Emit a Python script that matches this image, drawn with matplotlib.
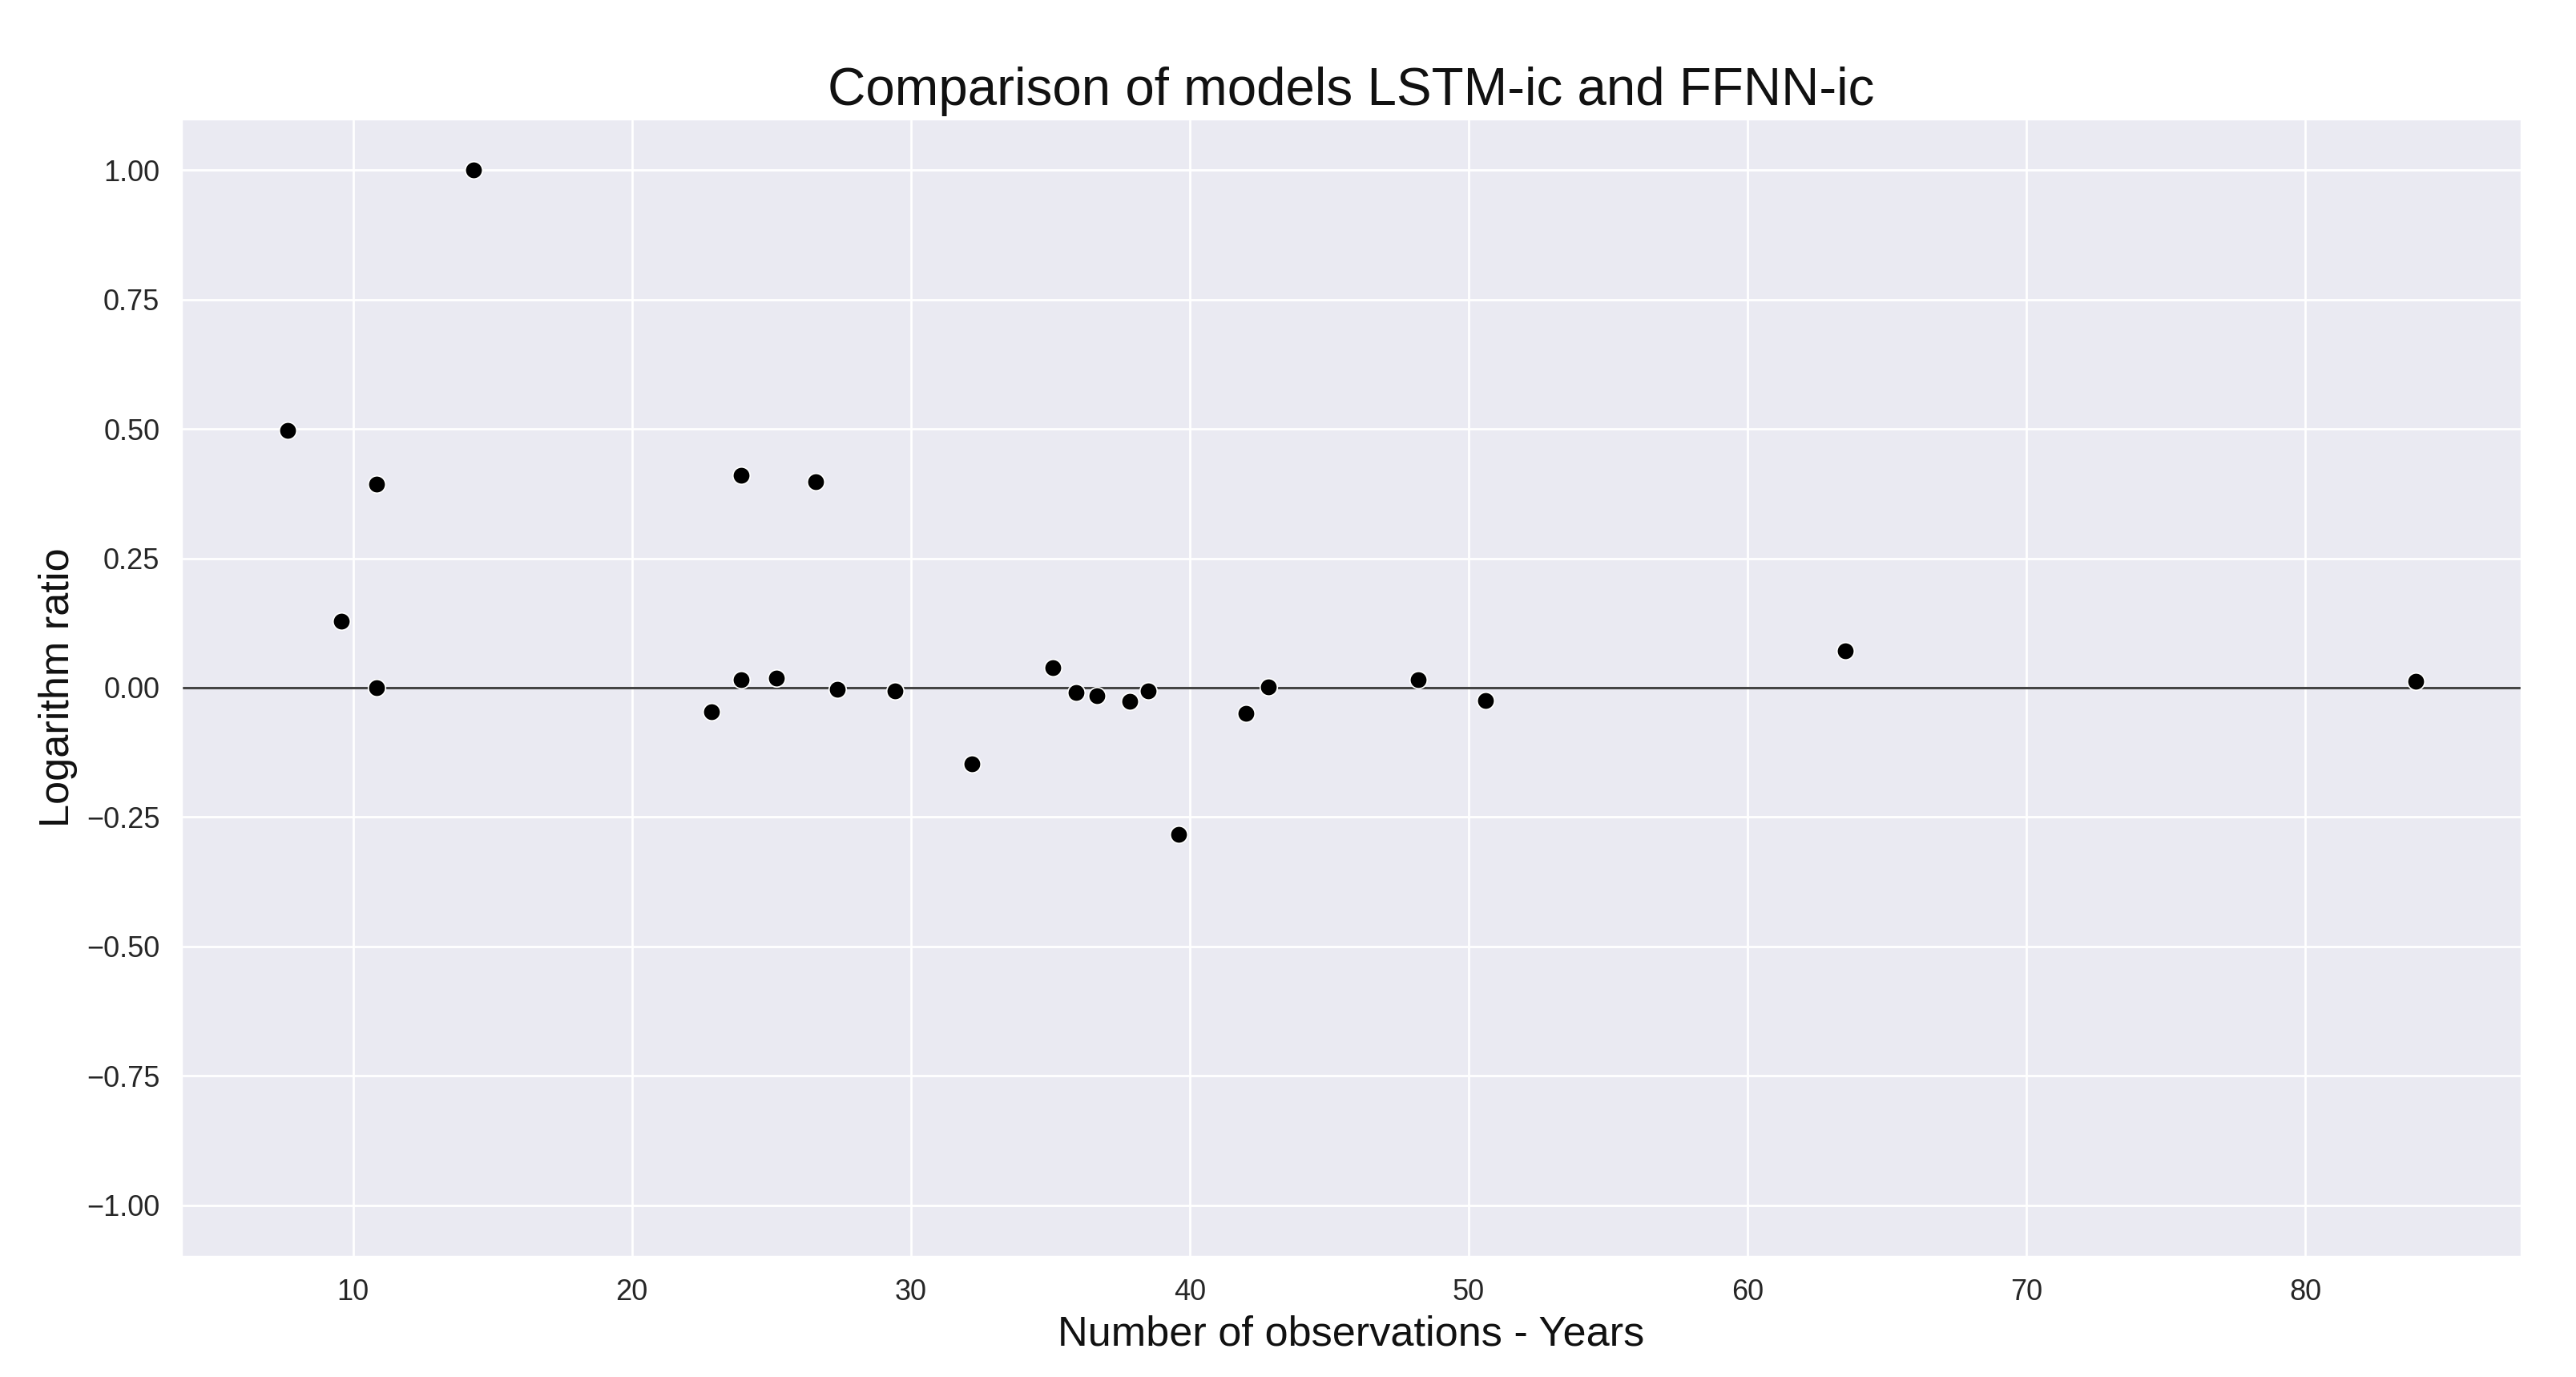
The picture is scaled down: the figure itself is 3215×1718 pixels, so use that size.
import matplotlib
matplotlib.use("Agg")
import matplotlib.pyplot as plt
import seaborn as sns
import numpy as np

years = [7.64, 9.59, 10.85, 10.85, 14.33, 22.85, 23.91, 23.91, 25.19, 26.59,
         27.35, 29.43, 32.19, 35.09, 35.93, 36.68, 37.85, 38.52, 39.61, 42.02,
         42.83, 48.19, 50.60, 63.51, 83.95]
log_ratio = [0.497, 0.128, 0.394, 0.0, 1.0, -0.046, 0.410, 0.016, 0.018, 0.398,
             -0.003, -0.007, -0.147, 0.038, -0.009, -0.015, -0.026, -0.007, -0.283, -0.049,
             0.002, 0.015, -0.025, 0.071, 0.012]

title = "Comparison of models LSTM-ic and FFNN-ic"
xlabel = "Number of observations - Years"
ylabel = "Logarithm ratio"

sns.set_theme(style="darkgrid")
plt.rcParams['font.family'] = ['Liberation Sans', 'DejaVu Sans']

fig = plt.figure(figsize=(16.075, 8.59), dpi=200)
ax = fig.add_axes([0.0702, 0.0871, 0.9088, 0.827])

ax.axhline(0, color='#444444', linewidth=1.1, zorder=1)
sns.scatterplot(x=years, y=log_ratio, color='black', s=60, ax=ax, zorder=3)

ax.set_ylim(-1.1, 1.1)
ax.set_yticks([-1.0, -0.75, -0.5, -0.25, 0.0, 0.25, 0.5, 0.75, 1.0])
ax.tick_params(axis='both', labelsize=13)
ax.set_title(title, fontsize=23.6, color='#111111')
ax.set_xlabel(xlabel, fontsize=18.8, color='#111111')
ax.set_ylabel(ylabel, fontsize=18.8, color='#111111')

fig.savefig("out.png", dpi=200)
